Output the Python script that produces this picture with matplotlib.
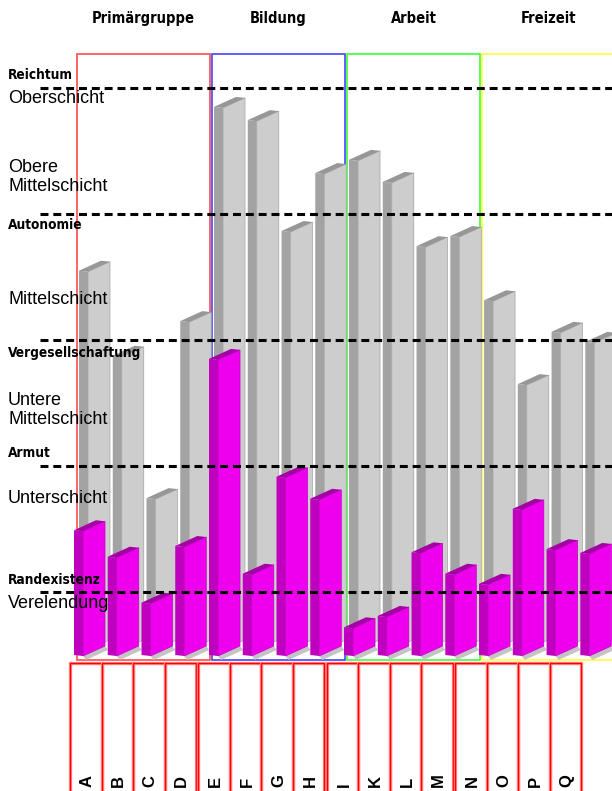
import matplotlib
matplotlib.use("Agg")
import matplotlib.pyplot as plt
from matplotlib import font_manager
from matplotlib.patches import Polygon, Rectangle

plt.rcParams['font.family'] = ['Liberation Sans', 'DejaVu Sans']

# headings use a condensed bold face when one is installed
_fonts = font_manager.fontManager.ttflist
if any(f.name == 'Liberation Sans Narrow' for f in _fonts):
    NARROW = dict(family=['Liberation Sans Narrow'], fontstretch='normal')
    HEAD_SIZE, BOLD_SIZE = 11.5, 11
elif any(f.name == 'DejaVu Sans' and f.stretch == 'condensed' for f in _fonts):
    NARROW = dict(family=['DejaVu Sans'], fontstretch='condensed')
    HEAD_SIZE, BOLD_SIZE = 10.5, 9.8
else:
    NARROW = dict(family=['Liberation Sans'], fontstretch='normal')
    HEAD_SIZE, BOLD_SIZE = 9.5, 8.8

# categories and groups
letters = ['A', 'B', 'C', 'D', 'E', 'F', 'G', 'H', 'I', 'K', 'L', 'M', 'N', 'O', 'P', 'Q']
groups = ['Primärgruppe', 'Bildung', 'Arbeit', 'Freizeit']
group_colors = ['#ff4c4c', '#4444ff', '#3cff3c', '#ffff3c']

# back row (grey) and front row (magenta) values on the 0-10 scale
back_values = [6.10, 4.75, 2.49, 5.30, 8.70, 8.49, 6.73, 7.65,
               7.86, 7.51, 6.49, 6.65, 5.63, 4.30, 5.13, 4.97]
front_values = [1.98, 1.56, 0.83, 1.73, 4.70, 1.29, 2.83, 2.48,
                0.44, 0.62, 1.63, 1.29, 1.13, 2.32, 1.68, 1.62]

# boundaries between the classes
boundary_levels = [9, 7, 5, 3, 1]
boundary_names = ['Reichtum', 'Autonomie', 'Vergesellschaftung', 'Armut', 'Randexistenz']
boundary_label_pos = [9.21, 6.83, 4.79, 3.21, 1.19]
class_names = ['Oberschicht', 'Obere\nMittelschicht', 'Mittelschicht',
               'Untere\nMittelschicht', 'Unterschicht', 'Verelendung']
class_label_pos = [8.83, 7.58, 5.65, 3.89, 2.48, 0.81]

# pixel size of one slot / one unit, used for the pseudo-3d offsets
PX_X = 33.67
PX_Y = 63.0

fig = plt.figure(figsize=(6.12, 7.91), dpi=100)
ax = fig.add_axes([0, 0, 1, 1])
ax.set_xlim(-74 / PX_X, (612 - 74) / PX_X)
ax.set_ylim((655 - 791) / PX_Y, 655 / PX_Y)
ax.axis('off')


def bar3d(x0, top, base, side_c, face_c, cap_c, z, shadow=False):
    a, w = 9 / PX_X, 31 / PX_X
    s, e = 10 / PX_Y, 1 / PX_Y
    side = [(x0, base), (x0, top), (x0 + a, top - e), (x0 + a, base - e)]
    face = [(x0 + a, base - e), (x0 + a, top - e), (x0 + w, top - e + s), (x0 + w, base - e + s)]
    cap = [(x0, top), (x0 + a, top - e), (x0 + w, top - e + s), (x0 + w - a, top + s)]
    if shadow:
        dx, dy = 3 / PX_X, 4 / PX_Y
        sh = [(x0 + a, base - e), (x0 + w, base - e + s),
              (x0 + w + dx, base - e + s - dy), (x0 + a + dx, base - e - dy)]
        ax.add_patch(Polygon(sh, closed=True, fc='#c4c4c4', ec='none', zorder=z))
    ax.add_patch(Polygon(side, closed=True, fc=side_c, ec='none', zorder=z))
    ax.add_patch(Polygon(face, closed=True, fc=face_c, ec=side_c, lw=0.5, zorder=z))
    ax.add_patch(Polygon(cap, closed=True, fc=cap_c, ec='none', zorder=z))


# group frames
for g, (name, col) in enumerate(zip(groups, group_colors)):
    x_left = 4.01 * g + 3 / PX_X
    ax.add_patch(Rectangle((x_left, -5 / PX_Y), 133 / PX_X, 606 / PX_Y,
                           fill=False, ec=col, lw=1.2, zorder=1))
    ax.text(x_left + 133 / PX_X / 2, 10.11, name, ha='center', va='center',
            fontweight='bold', fontsize=HEAD_SIZE, zorder=6, **NARROW)

# back row then front row
for i, v in enumerate(back_values):
    bar3d(i * 1.0025 + 5 / PX_X, v, 0.1, '#a3a3a3', '#cdcdcd', '#979797', 2 + i * 0.01)
for i, v in enumerate(front_values):
    bar3d(i * 1.0025, v, 0.0, '#bf00bf', '#ee00ee', '#a500a5', 3 + i * 0.01, shadow=True)

# class boundaries
for lvl, name, pos in zip(boundary_levels, boundary_names, boundary_label_pos):
    ax.plot([40 / PX_X - 74 / PX_X, 16.2], [lvl, lvl], color='black', lw=2.2,
            linestyle=(0, (2.6, 1.6)), zorder=5, solid_capstyle='butt')
    ax.text(-66 / PX_X, pos, name, ha='left', va='center',
            fontweight='bold', fontsize=BOLD_SIZE, zorder=6, **NARROW)
for name, pos in zip(class_names, class_label_pos):
    ax.text(-66 / PX_X, pos, name, ha='left', va='center', fontsize=13,
            linespacing=1.15, zorder=6)

# letter strip at the bottom
SLOT = 31.5
ax2 = fig.add_axes([70 / 612, 0, 542 / 612, 128 / 791])
ax2.set_xlim(0, 542 / SLOT)
ax2.set_ylim(0, 1)
ax2.axis('off')
for i, letter in enumerate(letters):
    g, j = divmod(i, 4)
    x = g * 4.075 + j
    ax2.add_patch(Rectangle((x, -0.1), 1, 1.1, fill=False, ec='#ff9090', lw=2.4, clip_on=False))
    ax2.add_patch(Rectangle((x, -0.1), 1, 1.1, fill=False, ec='#ff0000', lw=1.0, clip_on=False))
    ax2.text(x + 0.55, 0.03, letter, rotation=90, ha='center', va='bottom',
             fontweight='bold', fontsize=12)

fig.savefig('out.png', dpi=100)
